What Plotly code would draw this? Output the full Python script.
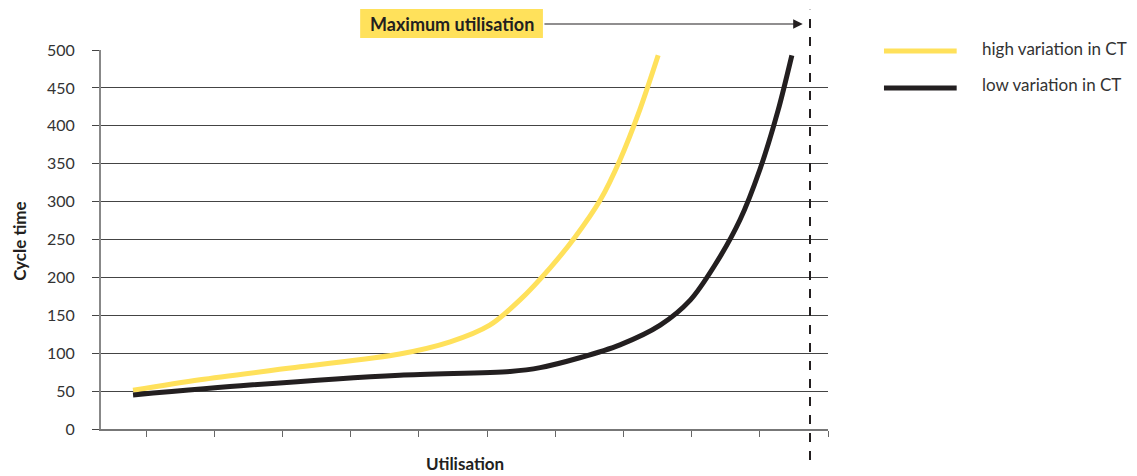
import plotly.graph_objects as go

# Data (utilisation tick index, cycle time)
high_x = [0.81, 1.79, 3.26, 4.72, 5.46, 6.04, 6.48, 6.92, 7.29, 7.66, 7.95, 8.24, 8.51]
high_y = [51, 65, 82, 99, 115, 137, 170, 212, 253, 302, 355, 421, 493]
low_x = [0.81, 2.52, 4.72, 6.34, 6.78, 7.36, 7.95, 8.54, 8.98, 9.34, 9.71, 10.0, 10.27, 10.47]
low_y = [45, 58, 71, 76, 81, 94, 111, 137, 170, 216, 276, 342, 421, 493]
x_ticks = [1, 2, 3, 4, 5, 6, 7, 8, 9, 10, 11]
y_ticks = [0, 50, 100, 150, 200, 250, 300, 350, 400, 450, 500]
max_util = 10.736
series_names = ["high variation in CT", "low variation in CT"]

YELLOW = "#FFE15B"
BLACK = "#231F20"
FONT = "Lato"

fig = go.Figure()
fig.add_trace(go.Scatter(x=high_x, y=high_y, mode="lines", name=series_names[0],
                         line=dict(color=YELLOW, width=5, shape="spline", smoothing=0.8),
                         cliponaxis=False))
fig.add_trace(go.Scatter(x=low_x, y=low_y, mode="lines", name=series_names[1],
                         line=dict(color=BLACK, width=5, shape="spline", smoothing=0.8),
                         cliponaxis=False))

fig.update_layout(
    width=1129, height=468,
    margin=dict(l=93, r=309, t=42, b=47),
    paper_bgcolor="white", plot_bgcolor="white",
    showlegend=False,
    font=dict(family=FONT, color="#222", size=14),
    xaxis=dict(range=[0.34, 11], tickvals=x_ticks, ticktext=[""] * len(x_ticks),
               ticks="outside", ticklen=6, tickcolor="#666", tickwidth=1,
               showgrid=False, zeroline=False, showline=True, linecolor="#777", linewidth=1.5),
    yaxis=dict(range=[0, 500], tickvals=y_ticks, ticks="outside", ticklen=7,
               tickcolor="#444", tickwidth=1, showgrid=True, gridcolor="#444", gridwidth=1,
               zeroline=False, showline=True, linecolor="#888", linewidth=2,
               ticklabelstandoff=14, tickfont=dict(family=FONT, size=16, color="#333")),
)

# Max utilisation dashed line
fig.add_shape(type="line", xref="x", yref="paper", x0=max_util, x1=max_util,
              y0=-0.082, y1=1.106, line=dict(color=BLACK, width=2, dash="dash"))

# Label box
fig.add_shape(type="rect", xref="x", yref="paper", x0=4.14, x1=6.82, y0=1.0317, y1=1.108,
              fillcolor=YELLOW, line=dict(width=0), layer="above")
fig.add_annotation(xref="x", yref="paper", x=5.48, y=1.0686, yanchor="middle", xanchor="center",
                   text="<b>Maximum utilisation</b>", borderpad=0,
                   showarrow=False, font=dict(family=FONT, size=18, color=BLACK))
fig.add_annotation(xref="x", yref="paper", x=10.63, y=1.0686, axref="x", ayref="pixel",
                   ax=6.82, ay=0, text="", showarrow=True, arrowhead=2,
                   arrowsize=1.6, arrowwidth=1.2, arrowcolor=BLACK)

# Axis titles
fig.add_annotation(xref="paper", yref="paper", x=-0.113, y=0.496, xanchor="center",
                   yanchor="middle", text="<b>Cycle time</b>", borderpad=0,
                   textangle=-90, showarrow=False, font=dict(family=FONT, size=17, color=BLACK))
fig.add_annotation(xref="paper", yref="paper", x=0.5007, y=-0.0923, xanchor="center",
                   yanchor="middle", text="<b>Utilisation</b>", borderpad=0,
                   showarrow=False, font=dict(family=FONT, size=17, color=BLACK))

# Custom legend
for yl, yt, col, name in [(0.9974, 1.005, YELLOW, series_names[0]),
                          (0.8997, 0.910, BLACK, series_names[1])]:
    fig.add_shape(type="line", xref="paper", yref="paper", x0=1.077, x1=1.177, y0=yl, y1=yl,
                  line=dict(color=col, width=5))
    fig.add_annotation(xref="paper", yref="paper", x=1.209, y=yt, xanchor="left",
                       yanchor="middle", text=name, showarrow=False,
                       font=dict(family=FONT, size=17, color="#333"))

fig.write_html("out.html")
